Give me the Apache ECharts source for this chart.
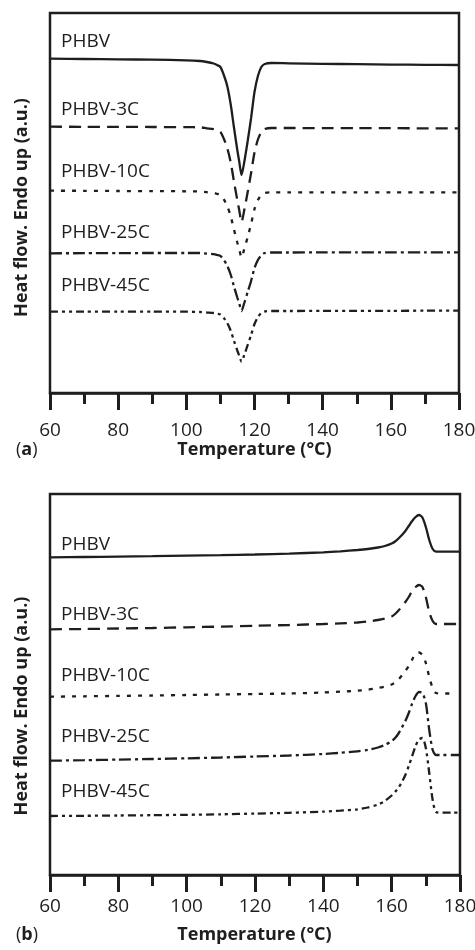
<!DOCTYPE html>
<html><head><meta charset="utf-8">
<script src="https://cdn.jsdelivr.net/npm/echarts@6/dist/echarts.min.js"></script>
<style>html,body{margin:0;padding:0;background:#fff}#c{width:475px;height:950px}</style>
</head><body><div id="c"></div>
<script>
// Panel (a): crystallization exotherms (temperature in °C, heat flow in a.u.)
const tempA = [60,70,80,90,100,104,106,108,109,110,111,112,113,114,115,115.5,116.2,117,118,119,120,121,122,123,125,130,140,150,160,170,180];
const aPHBV  = [334.3,334,333.7,333.3,332.7,332,331,329.5,328,326,318,307,289,265,242,232,218,231,252,275,301,317,326,329,330,329.7,329.2,328.8,328.4,328.2,328];
const aPHBV3 = [266.3,266.2,266.1,266,265.8,265.7,264.7,263.8,262.4,261,254.3,245,231,211,192,183.3,171,183,201,220,240.4,253.5,261,264,265,265,264.9,264.8,264.8,264.7,264.7];
const aPHBV10= [202.3,202.2,202,201.9,201.7,201.5,200.8,200.2,199.2,198.2,193.6,187,177,163.2,150,144,135.5,144,156,169,184,193,198.2,200,200.7,200.7,200.7,200.7,200.7,200.7,200.7];
const aPHBV25= [139.7,139.8,139.9,140,140,140,139.4,138.8,138,137,133,127.2,118.5,106.4,95,90,82,90,101,112,125,133,137.7,140,140.5,140.5,140.6,140.6,140.7,140.7,140.7];
const aPHBV45= [81.3,81.3,81.3,81.3,81.3,81,80.5,80,79.3,78.5,75,70,62.5,52,42,37.5,31.3,38,48,58,69,76,80,81.5,82,82,82.1,82.2,82.2,82.3,82.3];

// Panel (b): melting endotherms
const tempB = [60,70,80,90,100,110,120,130,140,145,150,153,156,158,160,161,162,163,164,165,166,167,168,169,170,171,172,173,175,178,180];
const bPHBV  = [317.7,318,318.4,318.8,319.3,319.8,320.5,321.4,322.7,323.7,325,326,327.5,329,331.5,333.5,336.5,340,344,349,354,358,360,357.5,348,335,326,323.3,323.3,323.3,323.3];
const bPHBV3 = [245.7,246,246.5,247,247.7,248.4,249.2,250,251,251.7,252.5,253.5,255,256.5,258.5,261,264.5,268.5,273,278,284,288,290,288,278,263,254,251,251,251,251];
const bPHBV10= [178.3,178.7,179.1,179.5,180,180.5,181,181.5,182.5,183.3,184.3,185.3,187,188.5,190.5,192.5,195.5,199.5,204,209,215.5,221.5,222.5,220,212,198,187,182,181.5,181.5,null];
const bPHBV25= [114.3,114.8,115.4,116,116.7,117.5,118.5,119.5,121,122.2,123.7,125.2,127.5,130,134,137,141.5,147.5,154,162,171.5,179,183,182,172,145,125,120,120,120,120];
const bPHBV45= [59,59.2,59.5,59.8,60.2,60.7,61.4,62.2,63.4,64.3,65.7,67.5,70.5,74,79.5,83,87.5,93,100,109,119,129,135.5,137,127,102,75,63,62.3,62.3,62.3];

const seriesNames = ['PHBV','PHBV-3C','PHBV-10C','PHBV-25C','PHBV-45C'];
const xTicks = {min:60, max:180, interval:20};
const yLabel = 'Heat flow. Endo up (a.u.)';
const xLabel = 'Temperature (°C)';

const dashes = ['solid',[12,7],[4,7],[12,4,3,4],[8,4,3,4,3,4]];
const INK = '#1e1e1e';
const FONT = '"Open Sans", "Noto Sans", sans-serif';

function pairs(t, v){ const o=[]; for(let i=0;i<t.length;i++){ if(v[i]!=null) o.push([t[i],v[i]]); } return o; }

const panelA = [aPHBV,aPHBV3,aPHBV10,aPHBV25,aPHBV45];
const panelB = [bPHBV,bPHBV3,bPHBV10,bPHBV25,bPHBV45];

const series = [];
panelA.forEach((v,i)=>series.push({type:'line',name:seriesNames[i],xAxisIndex:0,yAxisIndex:0,data:pairs(tempA,v),
  showSymbol:false,symbol:'none',smooth:0.25,silent:true,lineStyle:{color:INK,width:2.3,type:dashes[i]}}));
panelB.forEach((v,i)=>series.push({type:'line',name:seriesNames[i],xAxisIndex:1,yAxisIndex:1,data:pairs(tempB,v),
  showSymbol:false,symbol:'none',smooth:0.25,silent:true,lineStyle:{color:INK,width:2.3,type:dashes[i]}}));

function xAxis(gi,m){
  return {type:'value',gridIndex:gi,min:xTicks.min,max:xTicks.max,interval:xTicks.interval,
    axisLine:{show:true,onZero:false,lineStyle:{color:INK,width:2.5}},
    axisTick:{show:true,inside:false,length:17,lineStyle:{color:INK,width:3}},
    minorTick:{show:true,splitNumber:2,length:11,lineStyle:{color:INK,width:3}},
    splitLine:{show:false},minorSplitLine:{show:false},
    axisLabel:{show:true,margin:m,fontSize:19,color:INK,fontFamily:FONT}};
}
function yAxis(gi,max){ return {type:'value',gridIndex:gi,min:0,max:max,show:false}; }

const labA = [41.7,110,171.7,232.3,286];
const labB = [545,615,675.7,736.7,791.7];
const graphics = [];
seriesNames.forEach((n,i)=>{
  graphics.push({type:'text',x:61,y:labA[i],style:{text:n,fontSize:19,fontFamily:FONT,fill:INK,verticalAlign:'middle'}});
  graphics.push({type:'text',x:61,y:labB[i],style:{text:n,fontSize:19,fontFamily:FONT,fill:INK,verticalAlign:'middle'}});
});
[[450,'a'],[935,'b']].forEach(([y,l])=>{
  graphics.push({type:'text',x:254.5,y:y,style:{text:xLabel,fontSize:18,fontWeight:'bold',fontFamily:FONT,fill:INK,align:'center',verticalAlign:'middle'}});
  graphics.push({type:'text',x:16,y:y,style:{text:'({b|'+l+'})',fontSize:18,fontFamily:FONT,fill:INK,verticalAlign:'middle',rich:{b:{fontWeight:'bold',fontSize:18,fontFamily:FONT,fill:INK}}}});
});
graphics.push({type:'text',x:22,y:207.5,rotation:Math.PI/2,style:{text:yLabel,fontSize:18,fontWeight:'bold',fontFamily:FONT,fill:INK,align:'center',verticalAlign:'middle'}});
graphics.push({type:'text',x:22,y:706,rotation:Math.PI/2,style:{text:yLabel,fontSize:18,fontWeight:'bold',fontFamily:FONT,fill:INK,align:'center',verticalAlign:'middle'}});

const chart = echarts.init(document.getElementById('c'),null,{renderer:'canvas'});
chart.setOption({
  animation:false,
  backgroundColor:'#fff',
  grid:[
    {left:50,top:13,width:409,height:380,show:true,borderColor:INK,borderWidth:2.5,backgroundColor:'transparent',containLabel:false,outerBoundsMode:'none'},
    {left:50,top:494,width:410,height:381,show:true,borderColor:INK,borderWidth:2.5,backgroundColor:'transparent',containLabel:false,outerBoundsMode:'none'}
  ],
  xAxis:[xAxis(0,28),xAxis(1,22)],
  yAxis:[yAxis(0,380),yAxis(1,381)],
  series:series,
  graphic:graphics
});
</script></body></html>
